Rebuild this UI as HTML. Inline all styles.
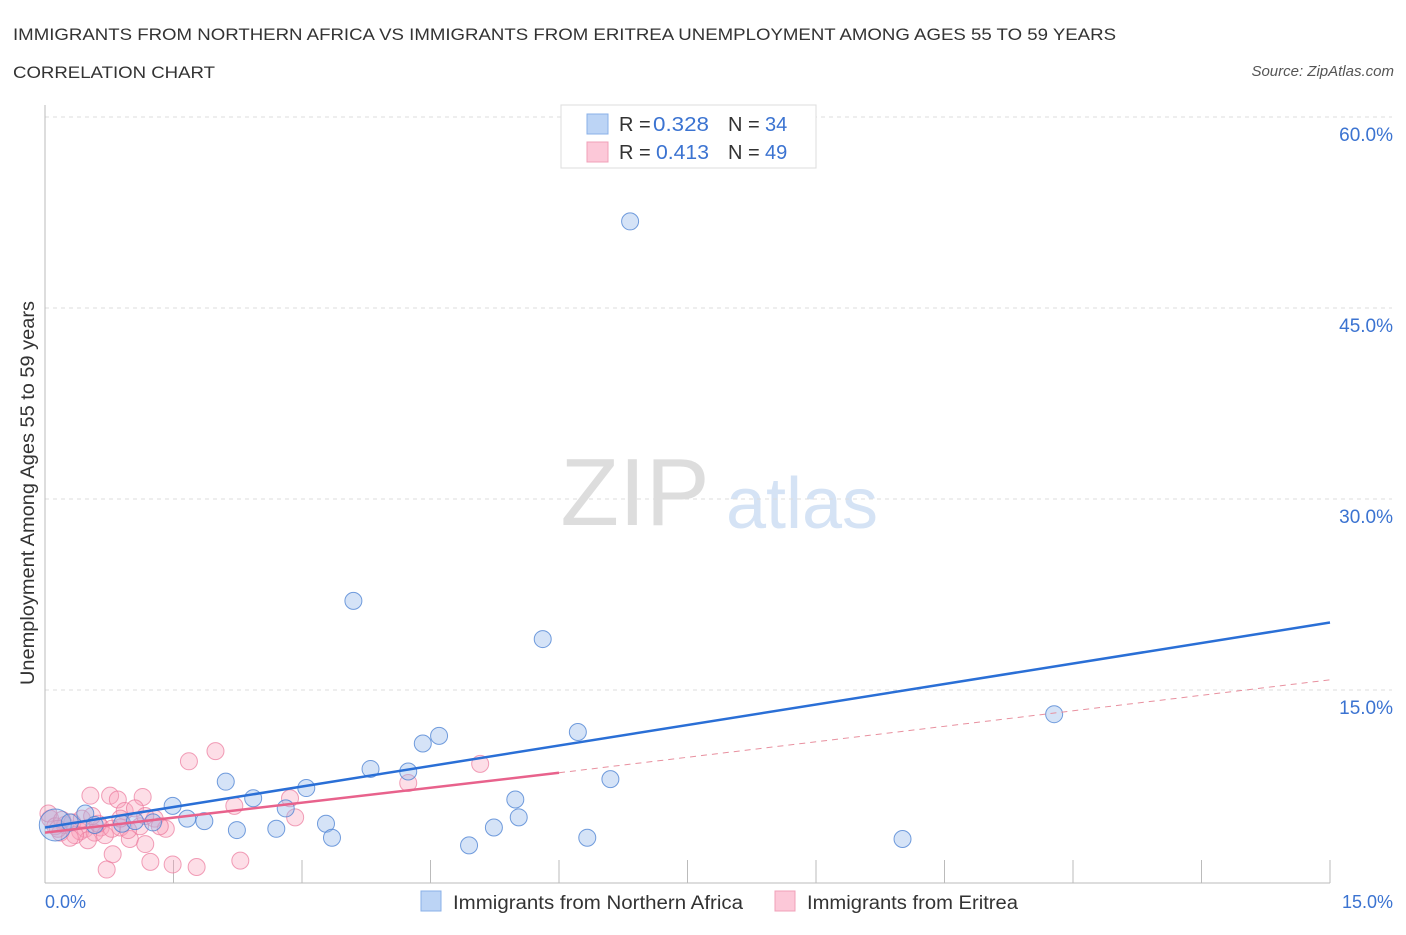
<!DOCTYPE html>
<html><head><meta charset="utf-8"><style>
body{margin:0;background:#fff;font-family:"Liberation Sans",sans-serif}
svg text{font-family:"Liberation Sans",sans-serif}
</style></head><body>
<svg id="c" width="1406" height="930">
<text x="13" y="40" font-size="17" fill="#333" textLength="1103" lengthAdjust="spacingAndGlyphs">IMMIGRANTS FROM NORTHERN AFRICA VS IMMIGRANTS FROM ERITREA UNEMPLOYMENT AMONG AGES 55 TO 59 YEARS</text>
<text x="13" y="78" font-size="17" fill="#333" textLength="202" lengthAdjust="spacingAndGlyphs">CORRELATION CHART</text>
<text x="1394" y="76" font-size="15" fill="#555" font-style="italic" text-anchor="end">Source: ZipAtlas.com</text>
<text x="635" y="525" font-size="96" fill="#ddd" font-family="Liberation Serif" text-anchor="middle">ZIP</text>
<text x="802" y="528" font-size="72" fill="#d5e3f5" text-anchor="middle">atlas</text>
<g id="grid"></g><g id="pts"></g><g id="lines"></g>
<text x="34" y="493" font-size="19" fill="#333" text-anchor="middle" textLength="384" lengthAdjust="spacingAndGlyphs" transform="rotate(-90 34 493)">Unemployment Among Ages 55 to 59 years</text>
<text x="45" y="908" font-size="18" fill="#3b73d1">0.0%</text>
<text x="1393" y="908" font-size="18" fill="#3b73d1" text-anchor="end">15.0%</text>
<g>
<rect x="561" y="105" width="255" height="63" fill="#fff" stroke="#ddd"/>
<rect x="587" y="114" width="21" height="20" fill="#bcd4f5" stroke="#8ab0e8"/>
<rect x="587" y="142" width="21" height="20" fill="#fcc8d8" stroke="#f0a0b8"/>
<text x="619" y="131" font-size="20" fill="#333">R =</text>
<text x="653" y="131" font-size="20" fill="#3b73d1" textLength="56" lengthAdjust="spacingAndGlyphs">0.328</text>
<text x="728" y="131" font-size="20" fill="#333">N =</text>
<text x="765" y="131" font-size="20" fill="#3b73d1">34</text>
<text x="619" y="159" font-size="20" fill="#333">R =</text>
<text x="656" y="159" font-size="20" fill="#3b73d1" textLength="53" lengthAdjust="spacingAndGlyphs">0.413</text>
<text x="728" y="159" font-size="20" fill="#333">N =</text>
<text x="765" y="159" font-size="20" fill="#3b73d1">49</text>
</g>
<g>
<rect x="421" y="891" width="20" height="20" fill="#bcd4f5" stroke="#8ab0e8"/>
<text x="453" y="909" font-size="19" fill="#333" textLength="290" lengthAdjust="spacingAndGlyphs">Immigrants from Northern Africa</text>
<rect x="775" y="891" width="20" height="20" fill="#fcc8d8" stroke="#f0a0b8"/>
<text x="807" y="909" font-size="19" fill="#333" textLength="211" lengthAdjust="spacingAndGlyphs">Immigrants from Eritrea</text>
</g>
</svg>
<script>
const yTicks=[15,30,45,60];
const yTickLabels=["15.0%","30.0%","45.0%","60.0%"];
const xTicks=[0,1.5,3,4.5,6,7.5,9,10.5,12,13.5,15];
const blueX=[6.83,3.60,5.81,11.78,6.22,4.60,4.41,3.80,4.24,6.60,2.11,3.05,2.43,5.49,1.49,2.81,0.47,5.53,1.66,1.86,1.26,0.90,3.28,5.24,2.24,2.70,3.35,6.33,10.01,4.95,0.12,0.58,0.29,1.05];
const blueY=[51.8,22.0,19.0,13.1,11.7,11.4,10.8,8.8,8.6,8.0,7.8,7.3,6.5,6.4,5.9,5.7,5.3,5.0,4.9,4.7,4.6,4.5,4.5,4.2,4.0,4.1,3.4,3.4,3.3,2.8,4.4,4.4,4.6,4.7];
const pinkX=[1.99,1.68,5.08,4.24,0.53,0.76,1.14,0.85,2.21,2.86,0.93,1.05,1.28,2.92,1.41,1.11,0.88,0.65,0.41,0.18,0.23,0.06,0.04,0.32,0.47,0.58,0.70,0.99,0.50,1.17,0.79,1.23,1.49,1.77,2.28,0.72,0.12,0.35,0.20,0.62,0.97,0.78,1.34,0.29,0.15,0.43,0.88,0.55,1.17];
const pinkY=[10.2,9.4,9.2,7.7,6.7,6.7,6.6,6.4,5.9,6.5,5.5,5.7,4.9,5.0,4.1,4.3,4.2,4.2,3.9,3.8,4.4,4.9,5.3,4.6,4.1,3.8,3.6,3.3,3.2,2.9,2.1,1.5,1.3,1.1,1.6,0.9,4.3,3.6,4.8,4.5,4.0,4.1,4.3,3.4,4.1,4.9,4.9,5.1,5.1];
const blueLine=[[0,4.2],[15,20.3]];
const pinkSolid=[[0,3.8],[6,8.5]];
const pinkDash=[[6,8.5],[15,15.8]];
const X=v=>45+v*(1285/15), Y=v=>881-v*(764/60);
const NS="http://www.w3.org/2000/svg";
function mk(t,a,p){const e=document.createElementNS(NS,t);for(const k in a)e.setAttribute(k,a[k]);p.appendChild(e);return e;}
const g=document.getElementById('grid');
yTicks.forEach((v,i)=>{
 const l=mk('line',{x1:45,x2:1392,y1:Y(v),y2:Y(v),stroke:'#ddd','stroke-dasharray':'4,4'},g);
 
 
 const t=mk('text',{x:1393,y:Y(v)+24,'font-size':19,fill:'#3b73d1','text-anchor':'end'},g);
 t.textContent=yTickLabels[i];
 
 
});
const ax=mk('line',{x1:45,x2:1330,y1:883,y2:883,stroke:'#bbb'},g);


const ay=mk('line',{x1:45,x2:45,y1:105,y2:883,stroke:'#bbb'},g);


xTicks.forEach(v=>{
 const l=mk('line',{x1:X(v),x2:X(v),y1:883,y2:v==0?883:860,stroke:'#bbb'},g);
 
 
});
const p=document.getElementById('pts');
pinkX.forEach((v,i)=>{
 const c=mk('circle',{cx:X(v),cy:Y(pinkY[i]),r:8.5,fill:'rgba(248,160,185,0.35)',stroke:'rgba(235,120,155,0.7)','stroke-width':1},p);
 
 
});
blueX.forEach((v,i)=>{
 const c=mk('circle',{cx:X(v),cy:Y(blueY[i]),r:i==30?16:8.5,fill:'rgba(150,185,235,0.4)',stroke:'rgba(70,125,210,0.75)','stroke-width':1},p);
 
 
});
const L=document.getElementById('lines');
function ln(d,col,w,dash){const e=mk('line',{x1:X(d[0][0]),y1:Y(d[0][1]),x2:X(d[1][0]),y2:Y(d[1][1]),stroke:col,'stroke-width':w},L);if(dash)e.setAttribute('stroke-dasharray',dash);return e;}
let e1=ln(blueLine,'#2a6fd6',2.5,null);


let e2=ln(pinkSolid,'#e8628c',2.5,null);


let e3=ln(pinkDash,'#e8909f',1,'6,5');


</script>
</body></html>
